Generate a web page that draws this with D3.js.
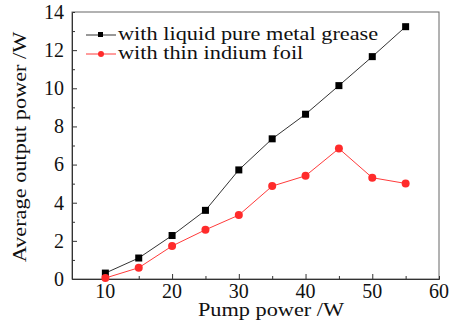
<!DOCTYPE html>
<html>
<head>
<meta charset="utf-8">
<script src="https://d3js.org/d3.v7.min.js"></script>
<style>
  body { margin: 0; background: #fff; }
  svg text { fill: #111; font-family: "Liberation Serif", "Times New Roman", serif; }
</style>
</head>
<body>
<script>
  // pump power (W)
  var pump = [10, 15, 20, 25, 30, 35, 40, 45, 50, 55];
  // average output power (W)
  var grease = [0.31, 1.1, 2.28, 3.6, 5.72, 7.35, 8.64, 10.14, 11.66, 13.23];
  var indium = [0.05, 0.59, 1.73, 2.58, 3.35, 4.87, 5.41, 6.84, 5.31, 5.01];
  var seriesNames = ["with liquid pure metal grease", "with thin indium foil"];
  var xTicks = [10, 20, 30, 40, 50, 60];
  var yTicks = [0, 2, 4, 6, 8, 10, 12, 14];

  var W = 452, H = 331;
  var m = { left: 72, right: 13, top: 12, bottom: 52 };
  var serif = "'Liberation Serif', 'Times New Roman', serif";
  var stretch = 1.24; // the original face is wider than Times

  var svg = d3.select("body").append("svg")
    .attr("width", W)
    .attr("height", H);

  var x = d3.scaleLinear().domain([5, 60]).range([m.left, W - m.right]);
  var y = d3.scaleLinear().domain([0, 14]).range([H - m.bottom, m.top]);

  // frame
  svg.append("rect")
    .attr("x", x(5)).attr("y", y(14))
    .attr("width", x(60) - x(5)).attr("height", y(0) - y(14))
    .attr("fill", "none").attr("stroke", "#666").attr("stroke-width", 1);

  // bottom axis, ticks pointing in
  var xa = svg.append("g").attr("transform", "translate(0," + y(0) + ")");
  xa.call(d3.axisBottom(x).tickValues(d3.range(10, 60, 5)).tickSize(-3).tickFormat(""));
  xa.call(function (g) {
    g.selectAll(".tick line").filter(function (d) { return d % 10 == 0; }).attr("y2", -5);
  });
  xa.selectAll("text.num").data(xTicks).enter().append("text")
    .attr("class", "num")
    .attr("x", function (d) { return x(d); })
    .attr("y", 19)
    .attr("text-anchor", "middle")
    .style("font-family", serif)
    .style("font-size", "20px")
    .text(String);

  // left axis
  var ya = svg.append("g").attr("transform", "translate(" + x(5) + ",0)");
  ya.call(d3.axisLeft(y).tickValues(d3.range(1, 14, 1)).tickSize(-3).tickFormat(""));
  ya.call(function (g) {
    g.selectAll(".tick line").filter(function (d) { return d % 2 == 0; }).attr("x2", 5);
  });
  ya.selectAll("text.num").data(yTicks).enter().append("text")
    .attr("class", "num")
    .attr("x", -8)
    .attr("y", function (d) { return y(d); })
    .attr("dy", "0.34em")
    .attr("text-anchor", "end")
    .style("font-family", serif)
    .style("font-size", "20px")
    .text(String);

  svg.selectAll(".domain").attr("stroke", "#333");
  svg.selectAll(".tick line").attr("stroke", "#333");

  // axis titles
  svg.append("text")
    .attr("transform", "translate(271,316) scale(" + stretch + ",1)")
    .attr("text-anchor", "middle")
    .attr("font-size", 18)
    .text("Pump power /W");

  svg.append("text")
    .attr("transform", "translate(26,147) rotate(-90) scale(" + stretch + ",1)")
    .attr("text-anchor", "middle")
    .attr("font-size", 18)
    .text("Average output power /W");

  var line = d3.line()
    .x(function (d, i) { return x(pump[i]); })
    .y(function (d) { return y(d); });

  // grease series
  svg.append("path").datum(grease)
    .attr("d", line).attr("fill", "none")
    .attr("stroke", "#333").attr("stroke-width", 1);
  svg.selectAll("rect.g").data(grease).enter().append("rect")
    .attr("class", "g")
    .attr("x", function (d, i) { return x(pump[i]) - 3.5; })
    .attr("y", function (d) { return y(d) - 3.5; })
    .attr("width", 7).attr("height", 7)
    .attr("fill", "#000");

  // indium series
  svg.append("path").datum(indium)
    .attr("d", line).attr("fill", "none")
    .attr("stroke", "#ff3b3b").attr("stroke-width", 1);
  svg.selectAll("circle.i").data(indium).enter().append("circle")
    .attr("class", "i")
    .attr("cx", function (d, i) { return x(pump[i]); })
    .attr("cy", function (d) { return y(d); })
    .attr("r", 4)
    .attr("fill", "#ff2b2b");

  // legend
  var leg = svg.append("g");
  var rows = [
    { name: seriesNames[0], color: "#333", y: 35 },
    { name: seriesNames[1], color: "#ff3b3b", y: 54 }
  ];
  leg.selectAll("line").data(rows).enter().append("line")
    .attr("x1", 86).attr("x2", 116)
    .attr("y1", function (d) { return d.y; })
    .attr("y2", function (d) { return d.y; })
    .attr("stroke", function (d) { return d.color; });
  leg.append("rect").attr("x", 98).attr("y", 32).attr("width", 5).attr("height", 5).attr("fill", "#000");
  leg.append("circle").attr("cx", 101).attr("cy", 54).attr("r", 3).attr("fill", "#ff2b2b");
  leg.selectAll("text").data(rows).enter().append("text")
    .attr("transform", function (d) { return "translate(118," + (d.y + 5) + ") scale(" + stretch + ",1)"; })
    .attr("font-size", 18)
    .text(function (d) { return d.name; });
</script>
</body>
</html>
